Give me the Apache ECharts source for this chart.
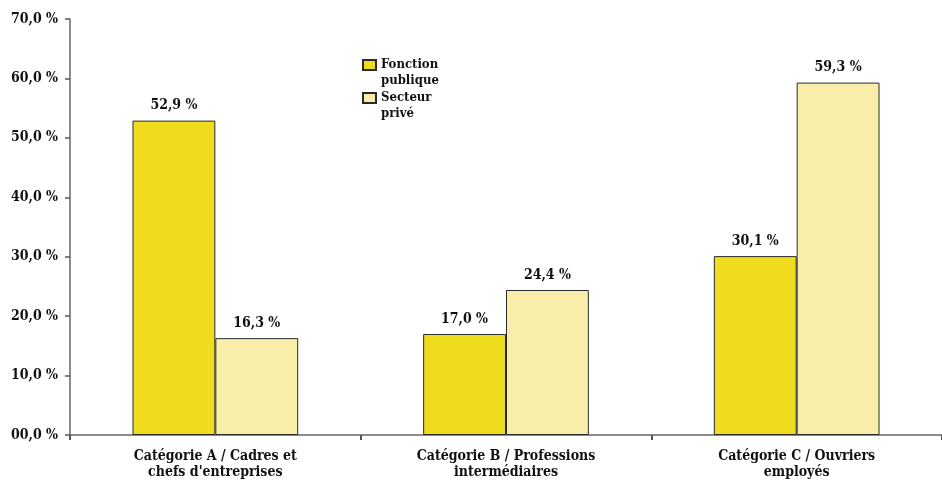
<!DOCTYPE html>
<html>
<head>
<meta charset="utf-8">
<script src="https://cdn.jsdelivr.net/npm/echarts@6/dist/echarts.min.js"></script>
<style>
  html, body { margin: 0; padding: 0; background: #fff; }
  #chart { width: 942px; height: 481px; }
</style>
</head>
<body>
<div id="chart"></div>
<script>
// Répartition par catégorie : fonction publique vs secteur privé
const categories = [
  "Catégorie A / Cadres et\nchefs d'entreprises",
  "Catégorie B / Professions\nintermédiaires",
  "Catégorie C / Ouvriers\nemployés"
];
const seriesNames = ["Fonction publique", "Secteur privé"];
const fonctionPublique = [52.9, 17.0, 30.1];
const secteurPrive = [16.3, 24.4, 59.3];
const yTickValues = [0, 10, 20, 30, 40, 50, 60, 70];
const yTickLabels = ["00,0 %", "10,0 %", "20,0 %", "30,0 %", "40,0 %", "50,0 %", "60,0 %", "70,0 %"];

const FONT = "DejaVu Serif Condensed";
const fmtPct = v => v.toFixed(1).replace('.', ',') + ' %';

const chart = echarts.init(document.getElementById('chart'), null, { renderer: 'canvas' });

const barLabel = {
  show: true,
  position: 'top',
  distance: 8,
  fontFamily: FONT,
  fontWeight: 'bold',
  fontSize: 14,
  color: '#111',
  formatter: p => fmtPct(p.value)
};

chart.setOption({
  animation: false,
  backgroundColor: '#fff',
  grid: { left: 70, top: 19, width: 878, height: 416, containLabel: false },
  legend: {
    orient: 'vertical',
    left: 357,
    top: 36,
    itemWidth: 13,
    itemHeight: 10,
    itemGap: -15,
    icon: 'rect',
    data: seriesNames,
    // leading empty line keeps the first word level with the swatch
    formatter: n => '\n' + n.replace(' ', '\n'),
    textStyle: {
      fontFamily: FONT,
      fontWeight: 'bold',
      fontSize: 13,
      color: '#111',
      lineHeight: 16
    }
  },
  xAxis: {
    type: 'category',
    data: categories,
    axisLine: { lineStyle: { color: '#666', width: 1.5 } },
    axisTick: { show: true, length: 5, lineStyle: { color: '#555', width: 2 } },
    axisLabel: {
      fontFamily: FONT,
      fontWeight: 'bold',
      fontSize: 14,
      color: '#111',
      lineHeight: 16,
      margin: 13,
      interval: 0
    }
  },
  yAxis: {
    type: 'value',
    min: 0,
    max: 70,
    interval: 10,
    splitLine: { show: false },
    axisLine: { show: true, lineStyle: { color: '#666', width: 1.5 } },
    axisTick: { show: true, length: 5, lineStyle: { color: '#555', width: 1.5 } },
    axisLabel: {
      fontFamily: FONT,
      fontWeight: 'bold',
      fontSize: 14,
      color: '#111',
      margin: 12,
      formatter: v => yTickLabels[yTickValues.indexOf(v)]
    }
  },
  series: [
    {
      name: seriesNames[0],
      type: 'bar',
      data: fonctionPublique,
      barGap: '0%',
      barCategoryGap: '43%',
      itemStyle: { color: '#F0DC1E', borderColor: '#2a2a2a', borderWidth: 1 },
      label: barLabel
    },
    {
      name: seriesNames[1],
      type: 'bar',
      data: secteurPrive,
      barGap: '0%',
      barCategoryGap: '43%',
      itemStyle: { color: '#F8EEAA', borderColor: '#2a2a2a', borderWidth: 1 },
      label: barLabel
    }
  ]
});
</script>
</body>
</html>
